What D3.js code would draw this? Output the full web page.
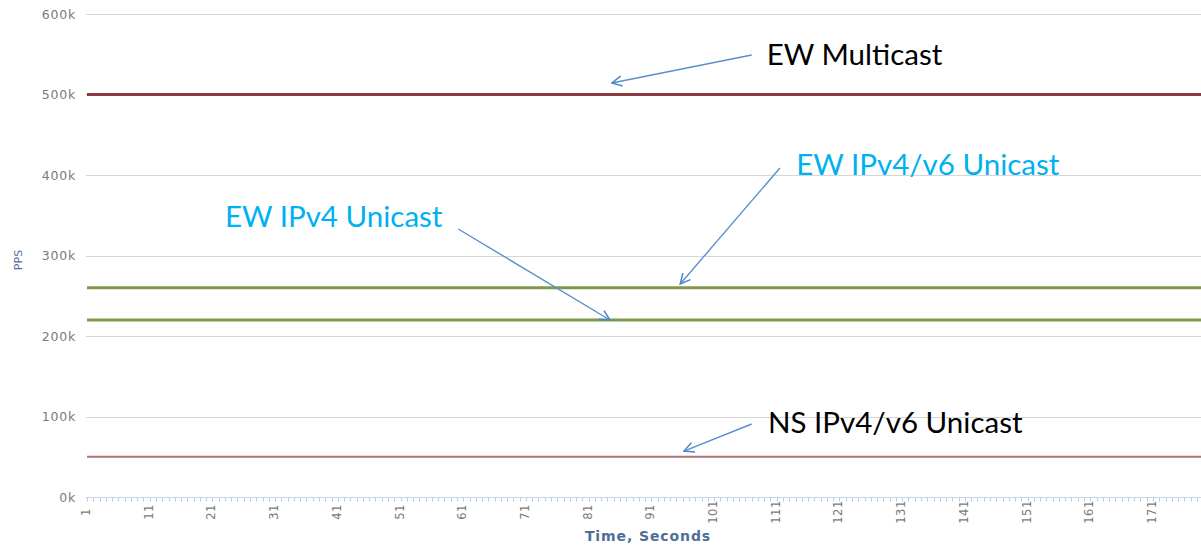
<!DOCTYPE html>
<html>
<head>
<meta charset="utf-8">
<script src="https://cdn.jsdelivr.net/npm/d3@7"></script>
<style>
  html, body { margin: 0; padding: 0; background: #fff; }
  svg { display: block; }
</style>
</head>
<body>
<svg id="chart" width="1201" height="548"></svg>
<script>
// ---- data ----
const timeSeconds = d3.range(1, 181);              // x categories (seconds 1..180)
const xTickLabels = [1, 11, 21, 31, 41, 51, 61, 71, 81, 91, 101, 111, 121, 131, 141, 151, 161, 171];
const yTickValues = [0, 100000, 200000, 300000, 400000, 500000, 600000];
const seriesNames = ["EW Multicast", "EW IPv4/v6 Unicast", "EW IPv4 Unicast", "NS IPv4/v6 Unicast"];
const seriesLevels = [500000, 260000, 220000, 50000]; // constant PPS per series
const seriesColors = ["#8b3a42", "#7d9a4a", "#7d9a4a", "#b07272"];
const seriesWidths = [3, 3, 3, 2];
// annotations: label text, label anchor (time, pps), arrow tail & tip (time, pps)
const annoText   = ["EW Multicast", "EW IPv4/v6 Unicast", "EW IPv4 Unicast", "NS IPv4/v6 Unicast"];
const annoColor  = ["#000000", "#00b0f0", "#00b0f0", "#000000"];
const annoLabel  = [[109.4, 536600], [114.1, 400000], [23.0, 335400], [109.6, 79500]];
const annoTail   = [[107.0, 549100], [111.5, 408700], [60.2, 332900], [107.0, 90700]];
const annoTip    = [[84.7, 514300], [95.6, 264600], [84.4, 219900], [96.2, 57100]];

// ---- layout ----
const svg = d3.select("#chart");
const W = 1201, H = 548;
const x = d3.scaleLinear().domain([1, 171]).range([87, 1153]);
const y = d3.scaleLinear().domain([0, 600000]).range([497, 14]);

// gridlines
svg.append("g").selectAll("line")
  .data(yTickValues.filter(v => v > 0))
  .join("line")
  .attr("x1", 86).attr("x2", W)
  .attr("y1", d => Math.round(y(d)) + 0.5).attr("y2", d => Math.round(y(d)) + 0.5)
  .attr("stroke", "#d6d6d6").attr("stroke-width", 1);

// y axis labels
const yAxis = d3.axisLeft(y).tickValues(yTickValues)
  .tickFormat(d => (d / 1000) + "k").tickSize(0).tickPadding(0);
const gy = svg.append("g").attr("transform", "translate(76,0)").call(yAxis);
gy.select(".domain").remove();
gy.selectAll("text").attr("fill", "#7a7a7a")
  .style("font-family", "'DejaVu Sans', Verdana, sans-serif").style("font-size", "12.5px")
  .style("letter-spacing", "0.8px");

// x axis: minor ticks each second
const gx = svg.append("g").attr("transform", "translate(0,497.5)");
gx.append("line").attr("x1", 86).attr("x2", W).attr("y1", 0).attr("y2", 0)
  .attr("stroke", "#c8d8ea").attr("stroke-width", 1);
gx.selectAll("line.minor").data(timeSeconds).join("line").attr("class", "minor")
  .attr("x1", d => Math.round(x(d)) + 0.5).attr("x2", d => Math.round(x(d)) + 0.5)
  .attr("y1", 0).attr("y2", 4)
  .attr("stroke", "#b9cde3").attr("stroke-width", 1);
gx.selectAll("text").data(xTickLabels).join("text")
  .attr("transform", d => `translate(${x(d) + 3},${14.5}) rotate(-90)`)
  .attr("text-anchor", "middle")
  .attr("fill", "#7a7a7a")
  .style("font-family", "'DejaVu Sans', Verdana, sans-serif").style("font-size", "11.5px")
  .style("letter-spacing", "0.5px")
  .text(d => d);

// axis titles
svg.append("text").attr("x", 648).attr("y", 541).attr("text-anchor", "middle")
  .attr("fill", "#4d6e98").style("font-family", "'DejaVu Sans', Verdana, sans-serif")
  .style("font-size", "14px").style("font-weight", "bold").style("letter-spacing", "0.9px")
  .text("Time, Seconds");
svg.append("text").attr("transform", "translate(22,260) rotate(-90)").attr("text-anchor", "middle")
  .attr("fill", "#4d6e98").style("font-family", "'DejaVu Sans', Verdana, sans-serif")
  .style("font-size", "11px").text("PPS");

// series lines
const line = d3.line().x(d => x(d[0])).y(d => y(d[1]));
svg.append("g").selectAll("path")
  .data(seriesLevels.map((v, i) => ({ i, pts: timeSeconds.map(t => [t, v]) })))
  .join("path")
  .attr("d", d => line(d.pts))
  .attr("fill", "none")
  .attr("stroke", d => seriesColors[d.i])
  .attr("stroke-width", d => seriesWidths[d.i]);

// annotation arrows
const defs = svg.append("defs");
defs.append("marker").attr("id", "arr").attr("viewBox", "0 0 12 12")
  .attr("refX", 11).attr("refY", 6).attr("markerWidth", 12).attr("markerHeight", 12)
  .attr("markerUnits", "userSpaceOnUse").attr("orient", "auto")
  .append("path").attr("d", "M1,1 L11,6 L1,11").attr("fill", "none")
  .attr("stroke", "#4f86c6").attr("stroke-width", 1.5);

const ann = svg.append("g");
annoText.forEach((t, i) => {
  ann.append("line")
    .attr("x1", x(annoTail[i][0])).attr("y1", y(annoTail[i][1]))
    .attr("x2", x(annoTip[i][0])).attr("y2", y(annoTip[i][1]))
    .attr("stroke", "#5b8fcc").attr("stroke-width", 1.4)
    .attr("marker-end", "url(#arr)");
  ann.append("text")
    .attr("x", x(annoLabel[i][0])).attr("y", y(annoLabel[i][1]))
    .attr("fill", annoColor[i])
    .style("font-family", "Lato, 'Open Sans', sans-serif").style("font-size", "29.5px")
    .text(t);
});
</script>
</body>
</html>
